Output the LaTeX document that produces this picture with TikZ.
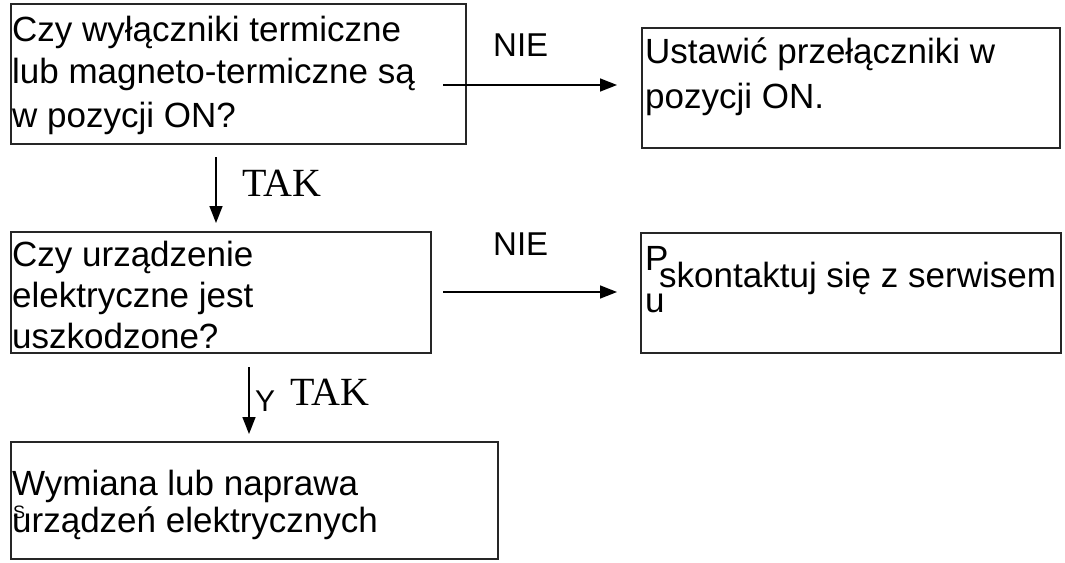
\documentclass[tikz,border=0pt]{standalone}
\usepackage{fontspec}
\setmainfont{Liberation Sans}
\newfontfamily\takfont{Liberation Serif}
\usetikzlibrary{arrows.meta}
\begin{document}
\begin{tikzpicture}[x=1pt,y=-1pt,
  box/.style={draw=black!85, line width=1.6pt, rectangle, anchor=north west, inner sep=0pt},
  txt/.style={anchor=base west, inner sep=0pt, font=\fontsize{35}{41}\selectfont},
  lab/.style={anchor=base west, inner sep=0pt, font=\fontsize{33}{40}\selectfont},
  taklab/.style={anchor=base west, inner sep=0pt, font=\takfont\fontsize{40}{48}\selectfont},
  arr/.style={line width=1.6pt, -{Triangle[length=17pt,width=13pt]}}]
\useasboundingbox (0,0) rectangle (1065,562);
% boxes
\node[box, minimum width=455pt, minimum height=140pt] (b1) at (10,3) {};
\node[box, minimum width=418pt, minimum height=120pt] (b2) at (641,27) {};
\node[box, minimum width=420pt, minimum height=121pt] (b3) at (10,231) {};
\node[box, minimum width=420pt, minimum height=120pt] (b4) at (640,232) {};
\node[box, minimum width=487pt, minimum height=117pt] (b5) at (10,441) {};
% texts
\node[txt, font=\fontsize{35}{43}\selectfont] (t1) at (12,41) {\vtop{\hbox{Czy wyłączniki termiczne}\hbox{lub magneto-termiczne są}\hbox{w pozycji ON?}}};
\node[txt, font=\fontsize{35}{45}\selectfont] (t2) at (645,63) {\vtop{\hbox{Ustawić przełączniki w}\hbox{pozycji ON.}}};
\node[txt] (t3) at (12,266) {\vtop{\hbox{Czy urządzenie}\hbox{elektryczne jest}\hbox{uszkodzone?}}};
\node[txt, font=\fontsize{35}{42}\selectfont] (t4a) at (645,270) {\vtop{\hbox{P}\hbox{u}}};
\node[txt] (t4b) at (659,287) {skontaktuj się z serwisem};
\node[txt, font=\fontsize{35}{37}\selectfont] (t5) at (12,495) {\vtop{\hbox{Wymiana lub naprawa}\hbox{urządzeń elektrycznych}}};
\node[txt, font=\fontsize{18}{20}\selectfont] (t5s) at (13,518) {S};
% labels
\node[lab] (nie1) at (493,56) {NIE};
\node[lab] (nie2) at (493,255) {NIE};
\node[taklab] (tak1) at (242,196) {TAK};
\node[lab, font=\fontsize{30}{36}\selectfont] (y2) at (255,411) {Y};
\node[taklab] (tak2) at (290,405) {TAK};
% connector ends
\coordinate (a1s) at (443,85);
\coordinate (a1e) at (617,85);
\coordinate (a2s) at (443,292);
\coordinate (a2e) at (617,292);
\coordinate (a3s) at (216,157);
\coordinate (a3e) at (216,223);
\coordinate (a4s) at (249,367);
\coordinate (a4e) at (249,434);
\draw[arr] (a1s) -- (a1e);
\draw[arr] (a2s) -- (a2e);
\draw[arr] (a3s) -- (a3e);
\draw[arr] (a4s) -- (a4e);
\end{tikzpicture}
\end{document}
